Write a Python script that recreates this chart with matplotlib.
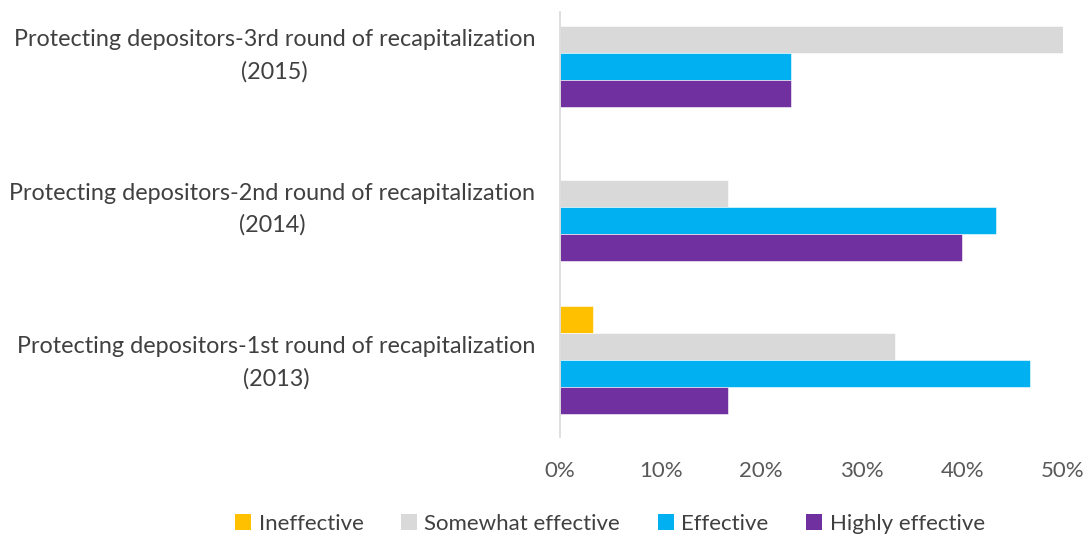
import numpy as np
import matplotlib
matplotlib.use("Agg")
import matplotlib.pyplot as plt
from matplotlib.patches import Patch

plt.rcParams['font.family'] = ['Lato', 'DejaVu Sans']

# categories, bottom to top
categories = [
    "Protecting depositors-1st round of recapitalization\n(2013)",
    "Protecting depositors-2nd round of recapitalization\n(2014)",
    "Protecting depositors-3rd round of recapitalization\n(2015)",
]
series_names = ["Ineffective", "Somewhat effective", "Effective", "Highly effective"]
ineffective = [3.3, 0.0, 0.0]
somewhat = [33.3, 16.7, 50.0]
effective = [46.7, 43.3, 23.0]
highly = [16.7, 40.0, 23.0]
colors = ["#FFC000", "#D9D9D9", "#00B0F0", "#7030A0"]
xticks = [0, 10, 20, 30, 40, 50]

W, H = 1087, 536
fig = plt.figure(figsize=(W / 100, H / 100), dpi=100)
ax = fig.add_axes([560 / W, 1 - 437 / H, (1063 - 560) / W, (437 - 12) / H])

y = np.arange(len(categories))
h = 27 / 153.5
offsets = [1.5 * h, 0.5 * h, -0.5 * h, -1.5 * h]
for vals, off, c in zip([ineffective, somewhat, effective, highly], offsets, colors):
    ax.barh(y + off, vals, height=h, color=c, edgecolor="white", linewidth=0.4)

ax.set_xlim(0, 50)
ax.set_ylim(-0.5, (360 - 12) / 153.5)
ax.set_xticks(xticks)
ax.set_xticklabels([f"{t}%" for t in xticks], fontsize=16, color="#595959")
ax.set_yticks(y + 0.03)
ax.set_yticklabels(categories, fontsize=16.8, color="#404040", multialignment="center",
                   linespacing=1.6)
ax.tick_params(length=0, axis="both")
ax.tick_params(axis="x", pad=17)
ax.tick_params(axis="y", pad=18)
for s in ["top", "right", "bottom"]:
    ax.spines[s].set_visible(False)
ax.spines["left"].set_color("#D9D9D9")
ax.spines["left"].set_linewidth(1.2)

handles = [Patch(facecolor=c, edgecolor="none") for c in colors]
fig.legend(handles, series_names, loc="center", bbox_to_anchor=(610 / W, 1 - 524 / H),
           ncol=4, frameon=False, fontsize=16, handlelength=0.7, handleheight=0.7,
           handletextpad=0.35, columnspacing=1.7, labelcolor="#404040")

fig.savefig("out.png", dpi=100)
